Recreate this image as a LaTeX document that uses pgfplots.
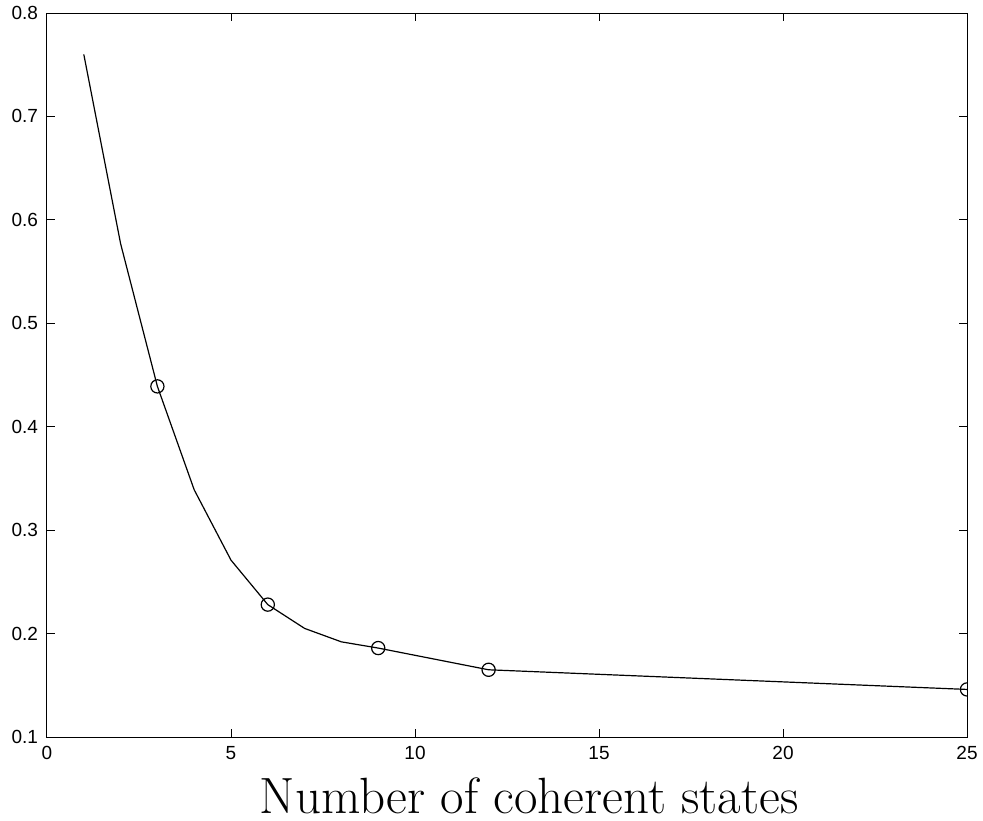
\documentclass[border=0pt]{standalone}
\usepackage{fontspec}
\usepackage{pgfplots}
\pgfplotsset{compat=1.18}
\newfontfamily\helv{Liberation Sans}
\begin{document}
\begin{tikzpicture}
\begin{axis}[
  at={(0,0)}, anchor=south west,
  scale only axis,
  width=460pt, height=362pt,
  xmin=0, xmax=25, ymin=0.1, ymax=0.8,
  xtick={0,5,10,15,20,25},
  ytick={0.1,0.2,0.3,0.4,0.5,0.6,0.7,0.8},
  tick align=inside,
  major tick length=4pt,
  axis line style={line width=0.5pt},
  every tick/.style={black, line width=0.5pt},
  tick label style={font=\helv\fontsize{9.5}{11}\selectfont},
  /pgf/number format/assume math mode=true,
  yticklabel style={/pgf/number format/fixed, /pgf/number format/precision=1, xshift=-1pt},
  xticklabel style={yshift=-1pt},
  clip marker paths=true,
  xlabel={Number of coherent states},
  xlabel style={font=\fontsize{25.5}{30}\selectfont, inner sep=0pt, at={(axis description cs:0.524,0)}, anchor=base, yshift=-38pt},
]
\addplot[black, line width=0.6pt, mark=none] coordinates {
(1,0.760) (2,0.577) (3,0.439) (4,0.339) (5,0.271) (6,0.228) (7,0.205) (8,0.192) (9,0.186) (10,0.179) (11,0.172) (12,0.165) (25,0.146)
};
\addplot[black, line width=0.6pt, only marks, mark=o, mark size=3.3pt] coordinates {
(3,0.439) (6,0.228) (9,0.186) (12,0.165) (25,0.146)
};
\end{axis}
\pgfresetboundingbox
\path[use as bounding box] (-23.5pt,-41.5pt) rectangle (468pt,368.5pt);
\end{tikzpicture}
\end{document}
